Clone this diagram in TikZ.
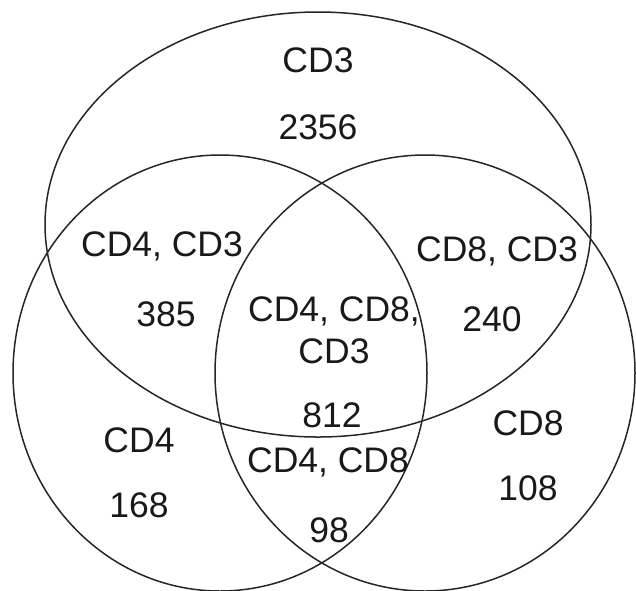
\documentclass[tikz,border=0pt]{standalone}
\usepackage{fontspec}
\setmainfont{Liberation Sans}
\begin{document}
\begin{tikzpicture}[x=1pt,y=-1pt,
  setline/.style={line width=1.5pt, draw=black!85},
  lbl/.style={inner sep=0pt, font=\fontsize{35.5}{42}\selectfont, text=black!90}]
\useasboundingbox[fill=white] (0,0) rectangle (636,590);
% the three sets
\draw[setline] (318,224.5) ellipse [x radius=273, y radius=212.5];
\draw[setline] (220,373) ellipse [x radius=207, y radius=218];
\draw[setline] (425,373) ellipse [x radius=210, y radius=218];
% region labels
\node[lbl] (cd3)    at (318,60)  {CD3};
\node[lbl] (n3)     at (318,127) {2356};
\node[lbl] (cd43)   at (162,246) {CD4, CD3};
\node[lbl] (n43)    at (166,314) {385};
\node[lbl] (cd83)   at (497,251) {CD8, CD3};
\node[lbl] (n83)    at (492,319) {240};
\node[lbl] (cd483a) at (334,311) {CD4, CD8,};
\node[lbl] (cd483b) at (334,351) {CD3};
\node[lbl] (n483)   at (332,415) {812};
\node[lbl] (cd4)    at (139,440) {CD4};
\node[lbl] (n4)     at (139,505) {168};
\node[lbl] (cd48)   at (328,462) {CD4, CD8};
\node[lbl] (n48)    at (329,530) {98};
\node[lbl] (cd8)    at (528,423) {CD8};
\node[lbl] (n8)     at (528,488) {108};
\end{tikzpicture}
\end{document}
